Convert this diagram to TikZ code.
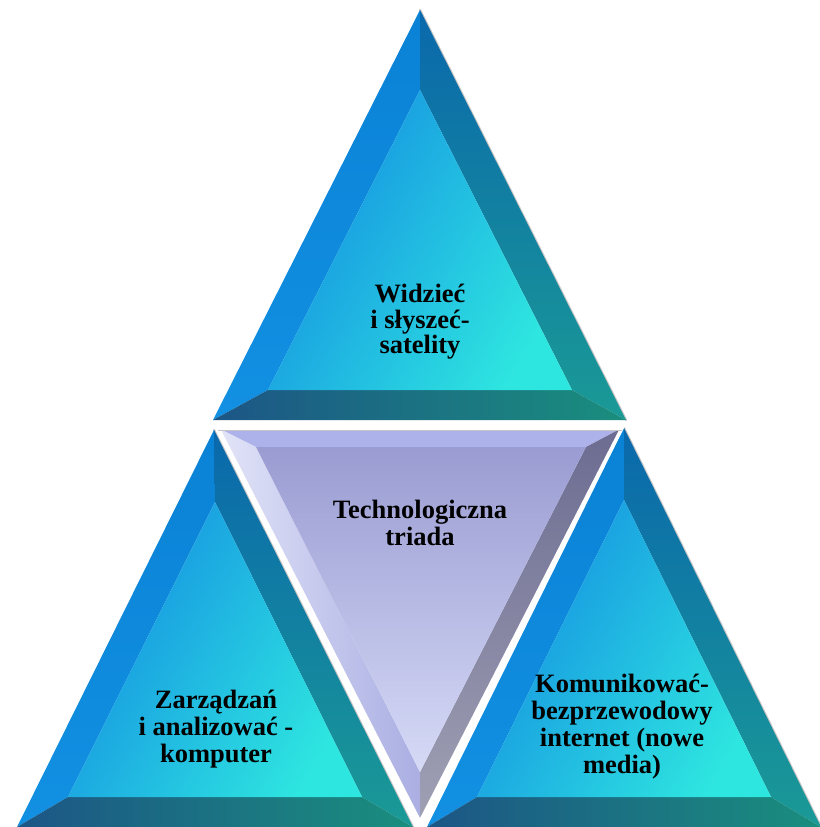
\documentclass[tikz,border=0pt]{standalone}
\usepackage{fontspec}
\setmainfont{Liberation Serif}
\definecolor{lface}{HTML}{0A82D6}
\definecolor{lfaceb}{HTML}{1290E2}
\definecolor{rfacet}{HTML}{0A68AC}
\definecolor{rfaceb}{HTML}{1A9A96}
\definecolor{bfacel}{HTML}{1C5686}
\definecolor{bfacer}{HTML}{1A8E7E}
\definecolor{innl}{HTML}{148EE2}
\definecolor{innm}{HTML}{1AAEEA}
\definecolor{innr}{HTML}{2EE6E0}
\definecolor{edgegray}{HTML}{C4C4C4}
\definecolor{mtop}{HTML}{AEB2EA}
\definecolor{mleftl}{HTML}{E2E4F8}
\definecolor{mleftr}{HTML}{AAAEE2}
\definecolor{mrightt}{HTML}{6C6C92}
\definecolor{mrightb}{HTML}{A0A0B4}
\definecolor{minnt}{HTML}{9A9CD2}
\definecolor{minnb}{HTML}{D6DAF6}
\tikzset{
  lbl/.style={font=\fontsize{26.5}{27}\selectfont\bfseries, align=center, text=black, inner sep=0pt},
  leftface/.style={top color=lface, bottom color=lfaceb},
  rightface/.style={top color=rfacet, bottom color=rfaceb},
  baseface/.style={left color=bfacel, right color=bfacer},
  innerface/.style={left color=innl, middle color=innm, right color=innr, shading angle=60},
  rimline/.style={draw=edgegray, line width=2.2pt, line cap=round},
}
\newcommand\bevtri[6]{%
  \draw[rimline, xshift=1.3pt] #1 -- #3;
  \shade[leftface] #1 -- #2 -- #5 -- #4 -- cycle;
  \shade[rightface] #1 -- #4 -- #6 -- #3 -- cycle;
  \shade[baseface] #2 -- #3 -- #6 -- #5 -- cycle;
  \shade[innerface] #4 -- #5 -- #6 -- cycle;
}
\begin{document}
\begin{tikzpicture}[x=1pt,y=-1pt]
\useasboundingbox (0,0) rectangle (819,827);
% top triangle
\coordinate (tA) at (420,10);
\coordinate (tB) at (213,420);
\coordinate (tC) at (626,420);
\coordinate (ta) at (420,90);
\coordinate (tb) at (268,390);
\coordinate (tc) at (572,390);
\bevtri{(tA)}{(tB)}{(tC)}{(ta)}{(tb)}{(tc)}
% left triangle
\coordinate (lA) at (214,430);
\coordinate (lB) at (17,827);
\coordinate (lC) at (413,827);
\coordinate (la) at (215,502);
\coordinate (lb) at (68,797);
\coordinate (lc) at (362,797);
\bevtri{(lA)}{(lB)}{(lC)}{(la)}{(lb)}{(lc)}
% right triangle
\coordinate (rA) at (624,428);
\coordinate (rB) at (427,827);
\coordinate (rC) at (821,827);
\coordinate (ra) at (624,500);
\coordinate (rb) at (477,797);
\coordinate (rc) at (771,797);
\bevtri{(rA)}{(rB)}{(rC)}{(ra)}{(rb)}{(rc)}
% middle inverted triangle
\coordinate (mA) at (218,428);
\coordinate (mB) at (622,428);
\coordinate (mC) at (420,822);
\coordinate (ma) at (256,447);
\coordinate (mb) at (586,447);
\coordinate (mc) at (420,772);
\fill[mtop] (mA) -- (mB) -- (mb) -- (ma) -- cycle;
\shade[left color=mleftl, right color=mleftr] (mA) -- (ma) -- (mc) -- (mC) -- cycle;
\shade[top color=mrightt, bottom color=mrightb] (mB) -- (mC) -- (mc) -- (mb) -- cycle;
\shade[top color=minnt, bottom color=minnb] (ma) -- (mb) -- (mc) -- cycle;
\draw[white, line width=3.5pt, line join=miter] (mA) -- (mB) -- (mC) -- cycle;
\draw[edgegray, line width=1.2pt] ([yshift=-2.5pt]mA) -- ([yshift=-2.5pt]mB);
% labels
\node[lbl, font=\fontsize{26.5}{25.5}\selectfont\bfseries] (top) at (420,322) {Widzieć\\i słyszeć-\\satelity};
\node[lbl] (mid) at (420,523) {Technologiczna\\triada};
\node[lbl] (left) at (216,729) {Zarządzań\\i analizować -\\komputer};
\node[lbl] (right) at (622,727) {Komunikować-\\bezprzewodowy\\internet (nowe\\media)};
\end{tikzpicture}
\end{document}
